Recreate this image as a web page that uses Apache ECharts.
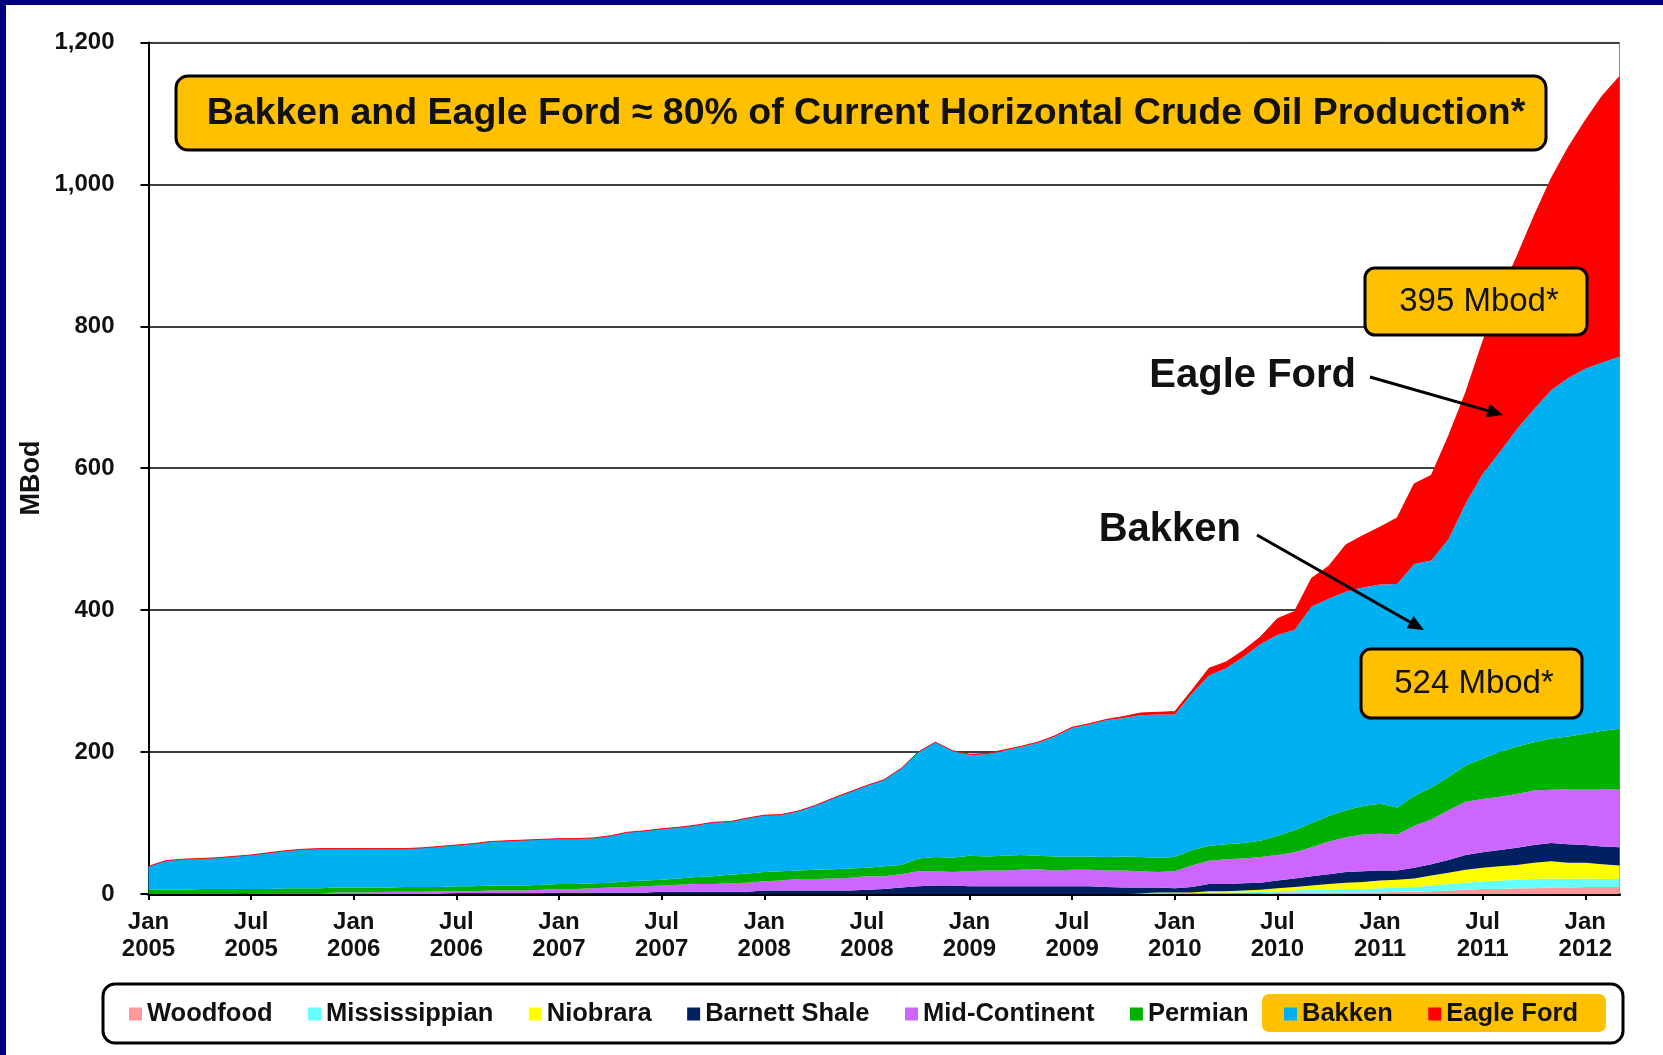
<!DOCTYPE html>
<html>
<head>
<meta charset="utf-8">
<script src="https://cdn.jsdelivr.net/npm/echarts/dist/echarts.min.js"></script>
<style>
html,body{margin:0;padding:0;background:#ffffff;}
#chart{width:1663px;height:1055px;}
</style>
</head>
<body>
<div id="chart"></div>
<script>
// ---------------- DATA ----------------
const months = [
'Jan 2005','Feb 2005','Mar 2005','Apr 2005','May 2005','Jun 2005','Jul 2005','Aug 2005','Sep 2005','Oct 2005','Nov 2005','Dec 2005',
'Jan 2006','Feb 2006','Mar 2006','Apr 2006','May 2006','Jun 2006','Jul 2006','Aug 2006','Sep 2006','Oct 2006','Nov 2006','Dec 2006',
'Jan 2007','Feb 2007','Mar 2007','Apr 2007','May 2007','Jun 2007','Jul 2007','Aug 2007','Sep 2007','Oct 2007','Nov 2007','Dec 2007',
'Jan 2008','Feb 2008','Mar 2008','Apr 2008','May 2008','Jun 2008','Jul 2008','Aug 2008','Sep 2008','Oct 2008','Nov 2008','Dec 2008',
'Jan 2009','Feb 2009','Mar 2009','Apr 2009','May 2009','Jun 2009','Jul 2009','Aug 2009','Sep 2009','Oct 2009','Nov 2009','Dec 2009',
'Jan 2010','Feb 2010','Mar 2010','Apr 2010','May 2010','Jun 2010','Jul 2010','Aug 2010','Sep 2010','Oct 2010','Nov 2010','Dec 2010',
'Jan 2011','Feb 2011','Mar 2011','Apr 2011','May 2011','Jun 2011','Jul 2011','Aug 2011','Sep 2011','Oct 2011','Nov 2011','Dec 2011',
'Jan 2012','Feb 2012','Mar 2012'
];

const woodfood = [
0,0,0,0,0,0,0,0,0,0,0,0, 0,0,0,0,0,0,0,0,0,0,0,0, 0,0,0,0,0,0,0,0,0,0,0,0,
0,0,0,0,0,0,0,0,0,0,0,0, 0,0,0,0,0,0,0,0,0,0,0,0, 0,0,1,1,1,1,2,2,2,2,2,2,
2,3,3,4,5,6,7,7,8,8,9,9, 10,10,10
];
const mississippian = [
0,0,0,0,0,0,0,0,0,0,0,0, 0,0,0,0,0,0,0,0,0,0,0,0, 0,0,0,0,0,0,0,0,0,0,0,0,
0,0,0,0,0,0,0,0,0,0,0,0, 0,0,0,0,0,0,0,0,0,0,1,1, 1,1,1,1,1,2,2,3,4,4,5,5,
6,6,7,8,9,10,11,12,12,13,13,12, 12,11,11
];
const niobrara = [
0,0,0,0,0,0,0,0,0,0,0,0, 0,0,0,0,0,0,0,0,0,0,0,0, 0,0,0,0,0,0,0,0,0,0,0,0,
0,0,0,0,0,0,0,0,0,0,0,0, 0,0,0,0,0,0,0,0,0,0,0,1, 1,1,2,2,3,3,4,5,6,8,9,10,
11,11,12,14,16,18,19,20,21,23,24,23, 22,21,19
];
const barnett = [
0,0,0,0,0,0,0,0,0,0,0,0, 0,0,0,0,0,0,1,1,1,1,1,1, 2,2,2,2,2,2,3,3,3,3,3,3,
5,5,5,5,5,5,6,7,9,11,12,12, 11,11,11,11,11,11,11,11,10,9,8,7, 6,8,10,10,10,10,11,12,13,14,15,15,
14,13,15,16,18,21,22,23,24,25,26,26, 25,25,26
];
const midContinent = [
0,0,0,0,0,0,1,1,1,1,1,2, 2,2,3,3,3,4,3,3,4,4,4,5, 5,5,6,7,8,9,9,10,11,11,12,13,
13,14,16,16,17,18,19,18,19,21,20,19, 21,22,22,23,24,22,23,23,23,24,23,22, 24,30,33,35,35,36,36,37,41,46,49,52,
52,51,59,63,70,75,75,75,76,77,75,78, 79,81,81
];
const permian = [
6,6,6,7,7,7,6,6,7,7,7,7, 7,7,6,7,7,6,7,7,7,7,7,7, 7,7,7,7,8,8,8,9,10,11,12,13,
13,13,12,13,13,13,12,14,13,18,20,20, 22,20,21,21,19,20,19,19,19,20,20,20, 20,22,21,21,22,23,27,31,34,36,38,40,
42,38,42,45,47,51,57,63,67,68,72,74, 78,82,86
];
const bakken = [
33,41,43,43,44,46,48,51,53,55,56,55, 55,55,55,54,55,57,58,60,62,63,64,64, 64,64,64,66,69,70,72,72,73,76,75,78,
80,80,84,91,100,108,116,122,136,150,162,151, 142,144,148,152,159,169,181,186,193,195,200,202, 201,220,240,248,262,277,283,282,305,306,308,308,
309,315,327,320,335,369,401,423,447,469,491,505, 514,519,524
];
const eagleFord = [
0,0,0,0,0,0,0,0,0,0,0,0, 0,0,0,0,0,0,0,0,0,0,0,0, 0,0,0,0,0,0,0,0,0,0,0,0,
0,0,0,0,0,0,0,0,0,0,0,0, 1,1,1,1,1,1,1,1,1,2,3,3, 4,5,10,9,9,10,23,26,40,46,66,73,
81,93,113,120,145,156,186,222,243,272,298,325, 350,376,395
];

const seriesNames = ['Woodfood','Mississippian','Niobrara','Barnett Shale','Mid-Continent','Permian','Bakken','Eagle Ford'];
const seriesData  = [woodfood, mississippian, niobrara, barnett, midContinent, permian, bakken, eagleFord];
const seriesColors = ['#FF9999','#66FFFF','#FFFF00','#002060','#CC66FF','#00B000','#00B0F0','#FF0000'];

const titleText = 'Bakken and Eagle Ford \u2248 80% of Current Horizontal Crude Oil Production*';
const calloutEagle = '395 Mbod*';
const calloutBakken = '524 Mbod*';
const yAxisTitle = 'MBod';

// ---------------- CHART ----------------
const FF = '"Liberation Sans", Arial, Helvetica, sans-serif';
const chart = echarts.init(document.getElementById('chart'), null, {renderer: 'canvas'});

function fmtThousands(v) {
  return String(v).replace(/\B(?=(\d{3})+(?!\d))/g, ',');
}
function arrowHead(x1, y1, x2, y2, len, half) {
  const dx = x2 - x1, dy = y2 - y1;
  const L = Math.sqrt(dx * dx + dy * dy);
  const ux = dx / L, uy = dy / L;
  const bx = x2 - ux * len, by = y2 - uy * len;
  return [[x2, y2], [bx - uy * half, by + ux * half], [bx + uy * half, by - ux * half]];
}
function arrow(x1, y1, x2, y2) {
  const head = arrowHead(x1, y1, x2, y2, 16, 7);
  return [
    {type: 'line', z: 120, shape: {x1: x1, y1: y1, x2: x2 - (x2 - x1) * 0.05, y2: y2 - (y2 - y1) * 0.05},
     style: {stroke: '#000', lineWidth: 3}},
    {type: 'polygon', z: 120, shape: {points: head}, style: {fill: '#000'}}
  ];
}
function calloutBox(x, y, w, h, text, tx, ty) {
  return [
    {type: 'rect', z: 110, shape: {x: x, y: y, width: w, height: h, r: 10},
     style: {fill: '#FFC000', stroke: '#000', lineWidth: 3}},
    {type: 'text', z: 111, x: tx, y: ty,
     style: {text: text, font: '33px ' + FF, fill: '#111', align: 'center', verticalAlign: 'middle',
             textAlign: 'center', textVerticalAlign: 'middle'}}
  ];
}

const series = seriesNames.map((n, i) => ({
  name: n,
  type: 'line',
  stack: 'oil',
  data: seriesData[i],
  symbol: 'none',
  showSymbol: false,
  smooth: false,
  lineStyle: {width: n === 'Eagle Ford' ? 1 : 0, color: seriesColors[i]},
  itemStyle: {color: seriesColors[i]},
  areaStyle: {color: seriesColors[i], opacity: 1},
  emphasis: {disabled: true},
  z: 2
}));

const graphics = [
  // navy frame
  {type: 'rect', z: 200, shape: {x: 0, y: 0, width: 1663, height: 5}, style: {fill: '#00007E'}},
  {type: 'rect', z: 200, shape: {x: 0, y: 0, width: 6, height: 1055}, style: {fill: '#00007E'}},
  // y-axis title
  {type: 'text', z: 111, x: 32, y: 478, rotation: Math.PI / 2,
   style: {text: yAxisTitle, font: 'bold 27px ' + FF, fill: '#111', align: 'center', verticalAlign: 'middle',
           textAlign: 'center', textVerticalAlign: 'middle'}},
  // title box
  {type: 'rect', z: 110, shape: {x: 176, y: 76, width: 1370, height: 74, r: 12},
   style: {fill: '#FFC000', stroke: '#000', lineWidth: 3}},
  {type: 'text', z: 111, x: 866, y: 114,
   style: {text: titleText, font: 'bold 37.5px ' + FF, fill: '#111', align: 'center', verticalAlign: 'middle',
           textAlign: 'center', textVerticalAlign: 'middle'}},
  // labels
  {type: 'text', z: 111, x: 1356, y: 376,
   style: {text: 'Eagle Ford', font: 'bold 40px ' + FF, fill: '#111', align: 'right', verticalAlign: 'middle',
           textAlign: 'right', textVerticalAlign: 'middle'}},
  {type: 'text', z: 111, x: 1241, y: 530,
   style: {text: 'Bakken', font: 'bold 40px ' + FF, fill: '#111', align: 'right', verticalAlign: 'middle',
           textAlign: 'right', textVerticalAlign: 'middle'}},
  // legend frame + highlight
  {type: 'rect', z: 1, shape: {x: 103, y: 984, width: 1520, height: 59, r: 12},
   style: {fill: '#fff', stroke: '#000', lineWidth: 3}},
  {type: 'rect', z: 2, shape: {x: 1262, y: 994, width: 344, height: 38, r: 7},
   style: {fill: '#FFC000'}}
].concat(
  calloutBox(1365, 268, 222, 67, calloutEagle, 1479, 302),
  calloutBox(1361, 649, 221, 69, calloutBakken, 1474, 684),
  arrow(1370, 377, 1503, 415),
  arrow(1257, 535, 1424, 630)
);

const option = {
  animation: false,
  backgroundColor: '#ffffff',
  textStyle: {fontFamily: FF},
  grid: {left: 148.5, right: 43.5, top: 42.4, bottom: 161, show: true,
         borderColor: '#8a8a8a', borderWidth: 1, backgroundColor: 'transparent'},
  legend: {
    left: 124, top: 996, z: 10,
    icon: 'rect', itemWidth: 13, itemHeight: 13, itemGap: 35.5,
    selectedMode: false,
    data: seriesNames,
    textStyle: {fontSize: 25.5, fontWeight: 'bold', color: '#111', fontFamily: FF, lineHeight: 26}
  },
  xAxis: {
    type: 'category', data: months, boundaryGap: false,
    axisLine: {lineStyle: {color: '#000', width: 3}},
    axisTick: {show: true, interval: 5, length: 6, lineStyle: {color: '#000', width: 2}},
    axisLabel: {interval: 5, formatter: v => v.replace(' ', '\n'), fontSize: 24, fontWeight: 'bold',
                color: '#111', lineHeight: 27, margin: 15, fontFamily: FF},
    splitLine: {show: false}
  },
  yAxis: {
    type: 'value', min: 0, max: 1200, interval: 200,
    axisLine: {show: true, lineStyle: {color: '#000', width: 2}},
    axisTick: {show: true, length: 8, lineStyle: {color: '#000', width: 2}},
    axisLabel: {fontSize: 24, fontWeight: 'bold', color: '#111', margin: 34, fontFamily: FF,
                formatter: v => fmtThousands(v)},
    splitLine: {show: true, lineStyle: {color: '#404040', width: 2}}
  },
  series: series,
  graphic: {elements: graphics}
};
chart.setOption(option);
</script>
</body>
</html>
